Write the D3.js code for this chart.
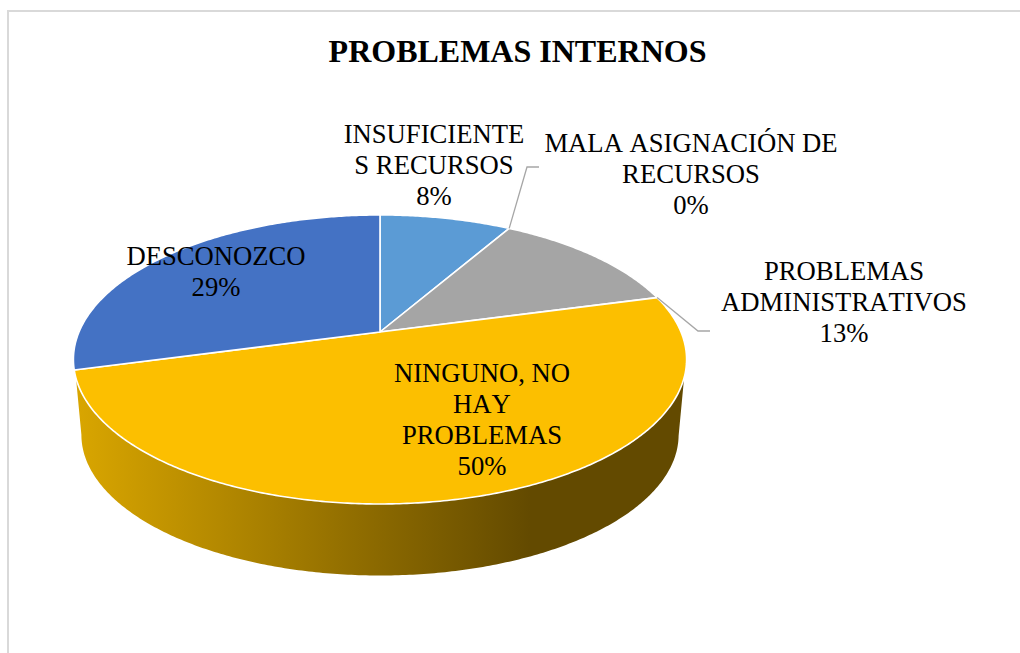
<!DOCTYPE html>
<html><head><meta charset="utf-8">
<script src="https://cdn.jsdelivr.net/npm/d3@7/dist/d3.min.js"></script>
<style>html,body{margin:0;padding:0;background:#fff}svg{display:block}text{font-family:"Liberation Serif",serif;fill:#000;font-kerning:none}</style>
</head><body><svg id="c" width="1020" height="653"></svg>
<script>
const title = "PROBLEMAS INTERNOS";
const categories = ["INSUFICIENTES RECURSOS","MALA ASIGNACIÓN DE RECURSOS","PROBLEMAS ADMINISTRATIVOS","NINGUNO, NO HAY PROBLEMAS","DESCONOZCO"];
const values = [8.33,0,12.5,50,29.17];
const colors = ["#5b9bd5","#ed7d31","#a5a5a5","#fcbf00","#4472c4"];
const labelLines = [["INSUFICIENTE","S RECURSOS","8%"],["MALA ASIGNACIÓN DE","RECURSOS","0%"],["PROBLEMAS","ADMINISTRATIVOS","13%"],["NINGUNO, NO","HAY","PROBLEMAS","50%"],["DESCONOZCO","29%"]];

const layout = {
  label:[{x:434,y:142.5},{x:691,y:152},{x:844,y:280},{x:482,y:382},{x:216,y:265}],
  lineH:31
};
const svg = d3.select("#c");
svg.append("path").attr("d","M1020 11H8V653").attr("fill","none").attr("stroke","#d9d9d9").attr("stroke-width",2);
const defs = svg.append("defs");
const g = defs.append("linearGradient").attr("id","wall").attr("gradientUnits","userSpaceOnUse").attr("x1",80).attr("x2",530).attr("y1",0).attr("y2",0);
g.append("stop").attr("offset",0).attr("stop-color","#d8a500");
g.append("stop").attr("offset",1).attr("stop-color","#634a00");

const K=-0.19, A=301, B=139.3, CX=380, CY=332;
function proj(a,r=1,s=1,oy=0){
  const u=r*Math.sin(a), v=-r*Math.cos(a), w=1+K*v;
  return [CX+s*A*u/w, CY+oy+s*B*v/w];
}
const line=d3.line();
const rad=d=>d*Math.PI/180;
const pie=d3.pie().sort(null).value(d=>d)(values);

// side wall
const topRim=d3.range(rad(108),rad(252.01),0.01).map(a=>proj(a));
const botRim=d3.range(rad(259),rad(100.99),-0.01).map(a=>proj(a,1,0.974,76));
svg.append("path").attr("d",line(topRim.concat(botRim))+"Z").attr("fill","url(#wall)");

// top slices
pie.forEach((p,i)=>{
  if(p.endAngle-p.startAngle<1e-6) return;
  const pts=[proj(0,0)].concat(d3.range(p.startAngle,p.endAngle,0.01).map(a=>proj(a)),[proj(p.endAngle)]);
  svg.append("path").attr("d",line(pts)+"Z").attr("fill",colors[i]).attr("stroke","#fff").attr("stroke-width",1.6).attr("stroke-linejoin","round");
});

// leaders
const p0=proj(pie[0].endAngle), p2=proj(pie[2].endAngle);
svg.append("path").attr("d",line([p0,[527,167],[539,167]])).attr("fill","none").attr("stroke","#a6a6a6").attr("stroke-width",1.3);
svg.append("path").attr("d",line([p2,[698,331],[710,331]])).attr("fill","none").attr("stroke","#a6a6a6").attr("stroke-width",1.3);

svg.append("text").attr("x",517.5).attr("y",62).attr("text-anchor","middle").attr("font-size",32).attr("font-weight","bold").text(title);
labelLines.forEach((ls,i)=>{
  ls.forEach((t,j)=>svg.append("text").attr("x",layout.label[i].x).attr("y",layout.label[i].y+j*layout.lineH).attr("text-anchor","middle").attr("font-size",26.67).text(t));
});
</script></body></html>
